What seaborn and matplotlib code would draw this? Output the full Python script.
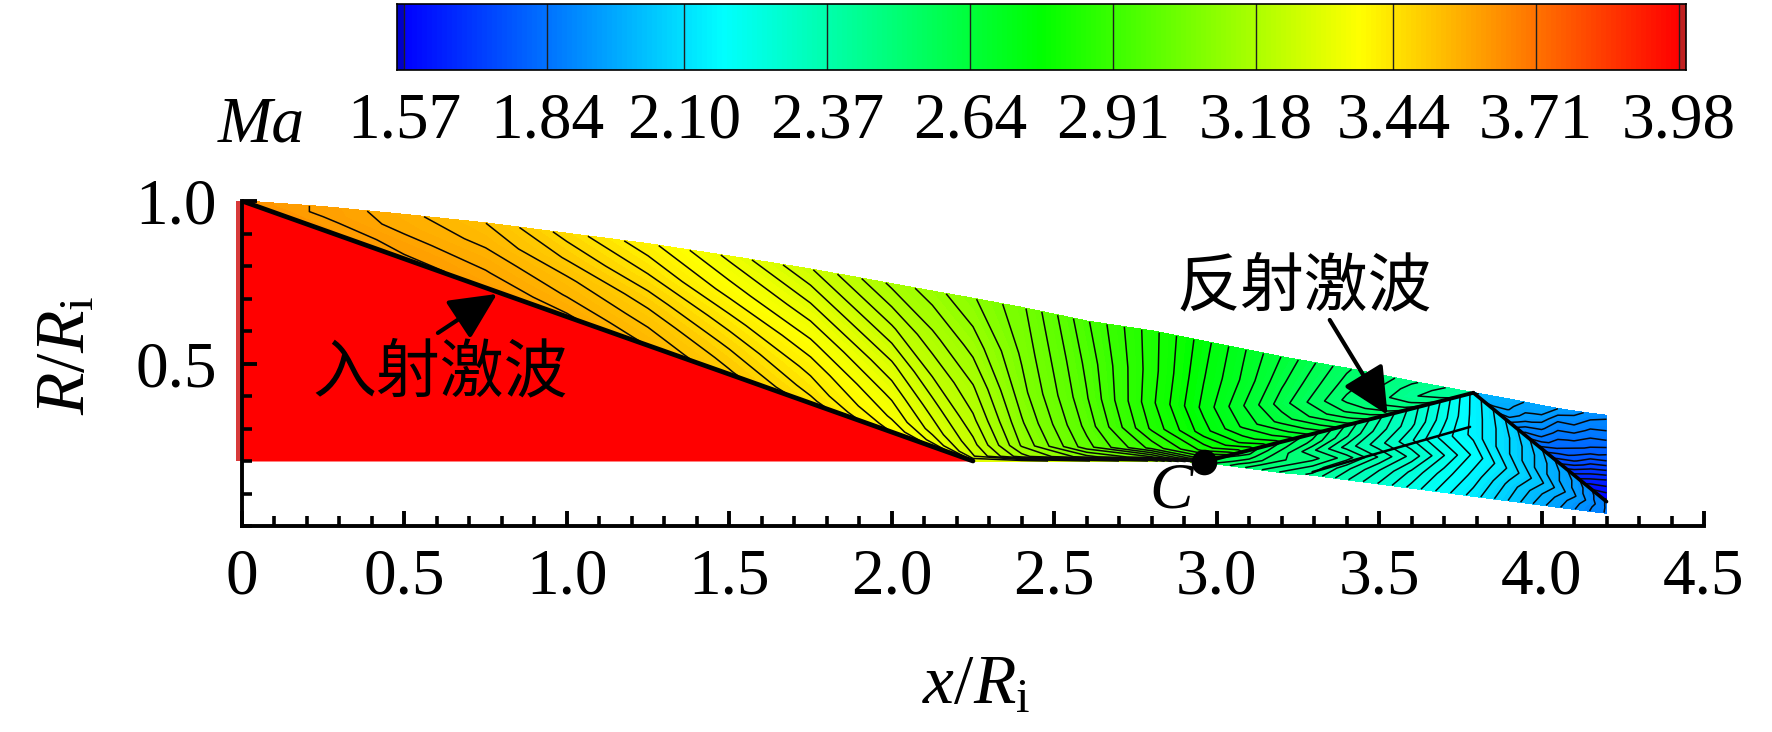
import numpy as np
import pandas as pd
import matplotlib
matplotlib.use("Agg")
import matplotlib.pyplot as plt
from matplotlib.colors import LinearSegmentedColormap
from matplotlib.ticker import MultipleLocator
import seaborn as sns

# ---- data ----
ma_ticks = [1.57, 1.84, 2.10, 2.37, 2.64, 2.91, 3.18, 3.44, 3.71, 3.98]
x_labels = ["0", "0.5", "1.0", "1.5", "2.0", "2.5", "3.0", "3.5", "4.0", "4.5"]

# Region ahead of the reflected shock, behind the incident shock
a_x = [0, .25, .5, .75, 1, 1.25, 1.5, 1.75, 2, 2.125, 2.25, 2.4, 2.6, 2.8, 2.96, 3.08, 3.2, 3.4, 3.6, 3.79]
a_top = [1, .982, .958, .932, .90, .868, .83, .79, .745, .722, .70, .672, .63, .60, .568, .544, .52, .485, .445, .41]
a_bot = [1, .911, .822, .733, .644, .556, .467, .378, .289, .245, .2, .2, .2, .2, .197, .228, .259, .31, .361, .41]
a_eta = [0, .03, .1, .25, .45, .7, 1]
a_mach = [
    [3.63, 3.63, 3.63, 3.63, 3.63, 3.63, 3.63],
    [3.62, 3.62, 3.62, 3.615, 3.61, 3.60, 3.60],
    [3.61, 3.61, 3.605, 3.60, 3.585, 3.57, 3.56],
    [3.60, 3.60, 3.59, 3.58, 3.565, 3.545, 3.525],
    [3.585, 3.58, 3.57, 3.55, 3.53, 3.495, 3.46],
    [3.55, 3.545, 3.535, 3.515, 3.485, 3.445, 3.40],
    [3.505, 3.50, 3.49, 3.465, 3.43, 3.38, 3.33],
    [3.46, 3.45, 3.435, 3.41, 3.37, 3.32, 3.26],
    [3.39, 3.38, 3.36, 3.33, 3.29, 3.235, 3.17],
    [3.36, 3.33, 3.30, 3.27, 3.23, 3.185, 3.135],
    [3.31, 3.26, 3.24, 3.21, 3.18, 3.14, 3.10],
    [3.30, 3.16, 3.12, 3.10, 3.08, 3.065, 3.05],
    [3.26, 3.08, 3.00, 2.98, 2.965, 2.955, 2.94],
    [3.20, 3.02, 2.90, 2.85, 2.835, 2.84, 2.84],
    [3.00, 2.90, 2.82, 2.76, 2.74, 2.75, 2.76],
    [2.80, 2.79, 2.74, 2.69, 2.67, 2.69, 2.70],
    [2.72, 2.71, 2.68, 2.63, 2.60, 2.62, 2.64],
    [2.60, 2.59, 2.57, 2.53, 2.50, 2.52, 2.54],
    [2.50, 2.49, 2.47, 2.45, 2.43, 2.44, 2.46],
    [2.40, 2.40, 2.40, 2.40, 2.40, 2.40, 2.40],
]

# Region behind the reflected shock
b_x = [2.96, 3.1, 3.2, 3.295, 3.4, 3.5, 3.6, 3.7, 3.79, 3.9, 4.0, 4.1, 4.2]
b_top = [.197, .233, .259, .283, .31, .336, .361, .387, .41, .32, .238, .157, .075]
b_bot = [.197, .178, .165, .157, .143, .130, .117, .104, .092, .078, .065, .052, .04]
b_eta = [0, .2, .4, .6, .8, 1]
b_mach = [
    [2.58, 2.58, 2.58, 2.58, 2.58, 2.58],
    [2.50, 2.52, 2.55, 2.57, 2.59, 2.60],
    [2.45, 2.48, 2.51, 2.52, 2.54, 2.56],
    [2.42, 2.45, 2.49, 2.46, 2.50, 2.52],
    [2.35, 2.38, 2.44, 2.39, 2.43, 2.45],
    [2.29, 2.32, 2.37, 2.33, 2.36, 2.38],
    [2.23, 2.26, 2.31, 2.27, 2.30, 2.31],
    [2.17, 2.20, 2.24, 2.20, 2.22, 2.23],
    [2.12, 2.15, 2.18, 2.15, 2.15, 2.15],
    [2.05, 2.07, 2.10, 2.08, 2.08, 2.07],
    [1.98, 2.00, 2.03, 2.01, 2.01, 2.00],
    [1.92, 1.93, 1.95, 1.94, 1.94, 1.93],
    [1.86, 1.86, 1.86, 1.86, 1.86, 1.86],
]

# Region behind the second reflected shock
c_x = [3.79, 3.9, 3.95, 4.0, 4.05, 4.1, 4.15, 4.2]
c_top = [.41, .39, .38, .37, .361, .353, .346, .34]
c_bot = [.41, .32, .279, .238, .197, .157, .116, .075]
c_eta = [0, .25, .5, .75, 1]
c_mach = [
    [2.00, 2.00, 2.00, 2.00, 2.00],
    [1.92, 1.95, 1.97, 1.98, 1.99],
    [1.85, 1.89, 1.93, 1.95, 1.97],
    [1.80, 1.86, 1.90, 1.94, 1.97],
    [1.74, 1.81, 1.85, 1.89, 1.945],
    [1.67, 1.77, 1.83, 1.885, 1.93],
    [1.60, 1.70, 1.80, 1.855, 1.91],
    [1.56, 1.65, 1.77, 1.85, 1.90],
]

# Shock traces
incident_x = [0, .5, 1, 1.5, 2, 2.25]
incident_r = [1, .822, .644, .467, .289, .2]
reflected_x = [2.96, 3.2, 3.4, 3.6, 3.79]
reflected_r = [.197, .259, .31, .361, .41]
second_x = [3.79, 4.0, 4.2]
second_r = [.41, .238, .075]
slip_x = [3.295, 3.5, 3.78]
slip_r = [.166, .225, .305]
wall_level = 0.2
point_c = (2.96, 0.197)

# ---- style ----
W, H = 1772, 732
sns.set_theme(style="ticks")
plt.rcParams["font.family"] = ["Liberation Serif", "Noto Sans CJK SC", "DejaVu Sans"]
plt.rcParams["mathtext.fontset"] = "custom"
plt.rcParams["mathtext.rm"] = "Liberation Serif"
plt.rcParams["mathtext.it"] = "Liberation Serif:italic"
plt.rcParams["text.color"] = "black"
plt.rcParams["axes.labelcolor"] = "black"
FS = 47
CJK = ["Noto Sans CJK SC", "DejaVu Sans"]

rainbow = LinearSegmentedColormap.from_list(
    "rb", ["#0000ff", "#00ffff", "#00ff00", "#ffff00", "#ff0000"], N=256)
lo, hi = ma_ticks[0], ma_ticks[-1]
fill_levels = np.linspace(lo, hi, 181)
line_levels = np.linspace(lo, hi, 91)

fig = plt.figure(figsize=(W / 100, H / 100), dpi=100, facecolor="white")


def axes_px(l, t, r, b):
    return fig.add_axes([l / W, 1 - b / H, (r - l) / W, (b - t) / H])


ax = axes_px(242, 201, 1704, 526)
ax.set_xlim(0, 4.5)
ax.set_ylim(0, 1.0)
ax.patch.set_alpha(0)
ax.set_axisbelow(False)

# Red free-stream region
ax.fill_between(incident_x, wall_level, incident_r, color="#ff0000", lw=0, zorder=1)
ax.fill_between([-0.018, 0], wall_level, 1.0, color="#d83a3a", lw=0, zorder=1, clip_on=False)


def region(xs, top, bot, eta, mach):
    xs, top, bot, eta = map(np.asarray, (xs, top, bot, eta))
    X = np.repeat(xs[:, None], len(eta), axis=1)
    Y = bot[:, None] + (top - bot)[:, None] * eta[None, :]
    Z = np.asarray(mach)
    cf = ax.contourf(X, Y, Z, levels=fill_levels, cmap=rainbow, extend="both", zorder=2)
    cf.set_edgecolor("face")
    cf.set_linewidth(0.4)
    ax.contour(X, Y, Z, levels=line_levels, colors="#080808", linewidths=1.1, zorder=3)


region(a_x, a_top, a_bot, a_eta, a_mach)
region(b_x, b_top, b_bot, b_eta, b_mach)
region(c_x, c_top, c_bot, c_eta, c_mach)

# Shocks
for xs, rs, lw in [(incident_x, incident_r, 3.4), (reflected_x, reflected_r, 2.8),
                   (second_x, second_r, 2.6), (slip_x, slip_r, 1.8)]:
    sns.lineplot(x=xs, y=rs, ax=ax, color="black", lw=lw, estimator=None, zorder=4,
                 legend=False, solid_capstyle="round")
sns.scatterplot(x=[point_c[0]], y=[point_c[1]], ax=ax, color="black", s=340, zorder=6,
                legend=False, linewidth=0)

# Axes decoration
sns.despine(ax=ax)
for s in ("left", "bottom"):
    ax.spines[s].set_linewidth(2.8)
    ax.spines[s].set_color("black")
    ax.spines[s].set_zorder(7)
ax.set_xticks(np.arange(len(x_labels)) * 0.5)
ax.set_xticklabels(x_labels)
ax.set_yticks([0.5, 1.0])
ax.set_yticklabels(["0.5", "1.0"])
ax.set_xlim(0, 4.5)
ax.set_ylim(0, 1.0)
ax.xaxis.set_minor_locator(MultipleLocator(0.1))
ax.yaxis.set_minor_locator(MultipleLocator(0.1))
ax.tick_params(axis="both", which="major", direction="in", length=11, width=2.8,
               labelsize=FS, color="black", labelcolor="black")
ax.tick_params(axis="both", which="minor", direction="in", length=7.5, width=2.6, color="black")
ax.tick_params(axis="x", which="major", pad=16)
ax.tick_params(axis="y", which="major", pad=18)
for t in ax.get_yticklabels():
    t.set_verticalalignment("center_baseline")

fig.text(976 / W, 1 - 687 / H, r"$x/R_{\mathrm{i}}$", fontsize=50, ha="center", va="center")
fig.text(68 / W, 1 - 355 / H, r"$R/R_{\mathrm{i}}$", fontsize=50, rotation=90, ha="center", va="center")

# Annotations
ax.text(.61, .47, "入射激波", fontsize=46, family=CJK, ha="center", va="center", color="black", zorder=8)
ax.text(3.27, .735, "反射激波", fontsize=46, family=CJK, ha="center", va="center", color="black", zorder=8)
ax.text(2.86, .105, "C", fontsize=FS, style="italic", ha="center", va="center", color="black", zorder=8)
style = "-|>,head_length=29,head_width=14"
ax.annotate("", xy=(.785, .714), xytext=(.603, .594),
            arrowprops=dict(arrowstyle=style, mutation_scale=1, lw=3, color="black", shrinkA=0, shrinkB=0), zorder=8)
ax.annotate("", xy=(3.526, .342), xytext=(3.348, .634),
            arrowprops=dict(arrowstyle=style, mutation_scale=1, lw=3, color="black", shrinkA=0, shrinkB=0), zorder=8)

# Colour bar
cax = axes_px(397, 4, 1686, 70)
n = 258
pad = (1686 - 1679) / (1679 - 404) * (hi - lo)
grid = np.linspace(lo - pad, hi + pad, n + 1)
centres = (grid[:-1] + grid[1:]) / 2
sns.heatmap(pd.DataFrame([centres]), ax=cax, cmap=rainbow, vmin=lo, vmax=hi, cbar=False,
            xticklabels=False, yticklabels=False)
to_cell = lambda v: (v - grid[0]) / (grid[-1] - grid[0]) * n
cax.axvspan(to_cell(lo - pad), to_cell(lo), color="#0000c8", lw=0)
cax.axvspan(to_cell(hi), to_cell(hi + pad), color="#c02020", lw=0)
for v in ma_ticks:
    cax.axvline(to_cell(v), color="#202020", lw=1.0)
for s in cax.spines.values():
    s.set_visible(True)
    s.set_linewidth(1.2)
    s.set_color("black")
cax.set_xticks([to_cell(v) for v in ma_ticks])
cax.set_xticklabels([f"{v:.2f}" for v in ma_ticks], rotation=0)
cax.tick_params(axis="x", length=0, pad=16, labelsize=FS, labelcolor="black")
fig.text(261 / W, 1 - 141 / H, "Ma", fontsize=FS, style="italic", ha="center", va="baseline")

fig.savefig("out.png", dpi=100)
